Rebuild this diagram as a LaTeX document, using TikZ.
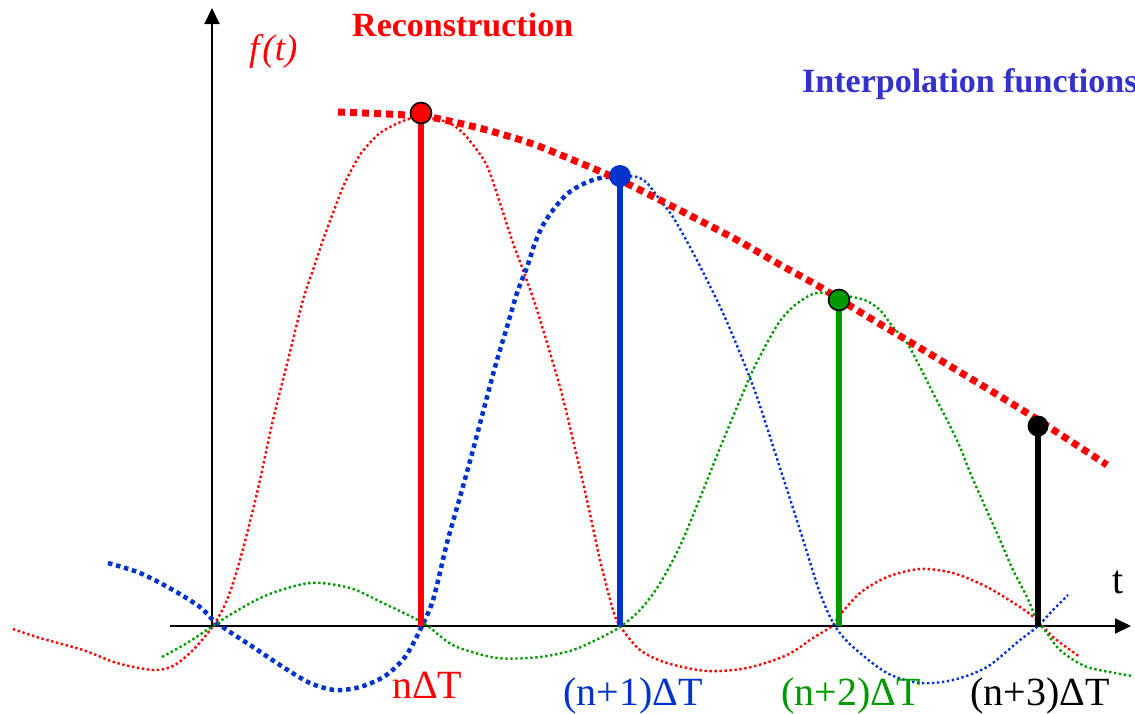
\documentclass[tikz,border=0pt]{standalone}
\usepackage{fontspec}
\setmainfont{Liberation Serif}
\usetikzlibrary{arrows.meta}
\definecolor{rred}{RGB}{255,0,0}
\definecolor{bblue}{RGB}{0,51,204}
\definecolor{ggreen}{RGB}{0,153,0}
\definecolor{tblue}{RGB}{51,51,204}
\tikzset{
  axisline/.style={line width=2pt, -{Triangle[length=16pt,width=15pt]}},
  thindot/.style={line width=2.4pt, dash pattern=on 2.4pt off 2.6pt, smooth, tension=0.5},
  thickdot/.style={line width=4.5pt, dash pattern=on 4.5pt off 3.8pt, smooth, tension=0.5},
  recon/.style={line width=7pt, dash pattern=on 7pt off 5pt, rred, smooth, tension=0.5},
  stemline/.style={line width=6pt},
  sample/.style={circle, inner sep=0pt, minimum size=21pt},
  title/.style={font=\fontsize{34}{40}\selectfont\bfseries, anchor=base west, inner sep=0pt},
  tick/.style={font=\fontsize{40}{46}\selectfont, anchor=base west, inner sep=0pt}
}
\begin{document}
\begin{tikzpicture}[x=1pt,y=-1pt]
\useasboundingbox (0,0) rectangle (1135,713);
% axes
\coordinate (o) at (212,626);
\coordinate (ytop) at (212,8);
\coordinate (xl) at (170,626);
\coordinate (xr) at (1131,626);
\draw[axisline] (o) -- (ytop);
\draw[axisline] (xl) -- (xr);
% interpolation functions
\draw[thindot, rred] plot coordinates {(13,629) (40,638) (83,650) (117,663) (153,670) (173,666) (193,650) (213,626) (227,600) (240,560) (257,493) (273,420) (288,360) (303,300) (313,270) (323,240) (333,213) (343,187) (353,167) (362,152) (380,133) (403,121) (421,117) (447,122) (462,132) (477,150) (488,168) (500,203) (513,243) (523,270) (537,310) (560,387) (573,440) (587,500) (600,560) (613,610) (620,626) (640,650) (667,663) (707,671) (747,668) (787,655) (813,638) (832,626) (840,615) (860,593) (887,577) (920,569) (953,573) (987,587) (1020,607) (1037,620) (1053,637) (1080,657)};
\draw[thickdot, bblue] plot coordinates {(108,563) (140,573) (173,590) (200,607) (213,620) (227,630) (253,647) (283,667) (310,683) (335,690) (360,687) (385,676) (405,657) (420,630) (433,600) (447,543) (460,497) (473,450) (487,397) (497,360) (507,327) (517,293) (527,267) (535,243) (543,225) (553,210) (567,194) (583,184) (600,178) (620,176)};
\draw[thindot, bblue] plot coordinates {(620,176) (637,177) (647,183) (660,200) (673,217) (690,247) (707,280) (723,313) (740,353) (757,397) (780,468) (800,530) (820,593) (835,626) (853,647) (887,673) (920,683) (953,680) (987,667) (1020,640) (1037,627) (1053,610) (1068,595)};
\draw[thindot, ggreen] plot coordinates {(162,657) (187,643) (210,628) (233,613) (267,595) (310,583) (350,588) (383,603) (412,617) (428,626) (440,636) (457,647) (497,658) (540,657) (573,650) (600,638) (620,627) (640,610) (659,585) (680,546) (700,498) (720,448) (740,400) (753,370) (767,343) (780,321) (795,305) (813,294) (830,293) (857,298) (867,301) (880,310) (893,327) (907,343) (920,367) (933,393) (947,420) (960,447) (972,477) (1000,540) (1013,570) (1027,597) (1037,620) (1047,633) (1060,650) (1087,667) (1133,676)};
% reconstruction
\draw[recon] plot coordinates {(338,112) (387,114) (421,116) (440,119) (483,129) (530,143) (573,160) (613,177) (650,195) (693,217) (737,240) (777,263) (820,287) (860,312) (940,360) (1027,413) (1107,465)};
% stems
\coordinate (b1) at (421,626); \coordinate (t1) at (421,113);
\coordinate (b2) at (620,626); \coordinate (t2) at (620,176);
\coordinate (b3) at (839,626); \coordinate (t3) at (839,300);
\coordinate (b4) at (1038,626); \coordinate (t4) at (1038,426);
\draw[stemline, rred] (b1) -- (t1);
\draw[stemline, bblue] (b2) -- (t2);
\draw[stemline, ggreen] (b3) -- (t3);
\draw[stemline, black] (b4) -- (t4);
\node[sample, fill=rred, draw=black, line width=1.6pt] (s1) at (t1) {};
\node[sample, fill=bblue, minimum size=22pt] (s2) at (t2) {};
\node[sample, fill=ggreen, draw=black, line width=1.6pt] (s3) at (t3) {};
\node[sample, fill=black] (s4) at (t4) {};
% texts
\node[title, text=rred] (rec) at (352,36) {Reconstruction};
\node[title, text=tblue] (itp) at (802,92) {Interpolation functions};
\node[font=\fontsize{37}{42}\selectfont\itshape, anchor=base west, inner sep=0pt, text=rred] (ft) at (249,60) {f\kern3pt(t)};
\node[tick, text=black] (tl) at (1112,593) {t};
\node[tick, text=rred] (l1) at (392,698) {nΔT};
\node[tick, text=bblue] (l2) at (563,705) {(n+1)ΔT};
\node[tick, text=ggreen] (l3) at (781,705) {(n+2)ΔT};
\node[tick, text=black] (l4) at (970,705) {(n+3)ΔT};
\end{tikzpicture}
\end{document}
